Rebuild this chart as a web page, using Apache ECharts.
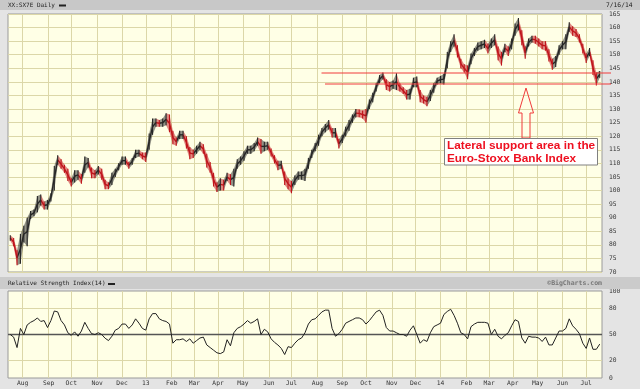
<!DOCTYPE html>
<html><head><meta charset="utf-8">
<script src="https://cdn.jsdelivr.net/npm/echarts@6/dist/echarts.min.js"></script>
<style>html,body{margin:0;padding:0;background:#e4e4e4;}#c{width:640px;height:389px;}</style>
</head><body><div id="c"></div>
<script>
// ---- data ----
const startDate = '2012-07-16';
const endDate = '2014-07-16';
const sampleStep = 3; // each sample spans 3 trading days
const priceLows = [
81.5,79.5,72.5,73,81,79.5,89.5,90.5,92,94.5,
93,93,96,100,109.5,108,106.5,103.5,101.5,103,
104,102.5,106.5,108.5,104.5,104.5,106,104,100.5,100.5,
102,105,107.5,109.5,109.5,108,109.5,112,112.5,111.5,
110.5,115,120.5,123.5,123.5,123.5,124,121.5,117,116.5,
119,119,115.5,111.5,112,113.5,115,113.5,108.5,106.5,
101.5,99.5,100,100,103.5,102,101.5,108,109.5,111,
113.5,113.5,114.5,116.5,113.5,114.5,115,112.5,110,107.5,
108,102,100.5,99,102,104,104,103.5,108,112,
114.5,116.5,120,121.5,122.5,119.5,119.5,115.5,117.5,120,
122,125,127,127,126.5,125,130,132.5,136.5,139.5,
141,137,136.5,137.5,137,136.5,135.5,133.5,133.5,138,
138,132.5,132,131,133,136,139,139.5,139,145,
151,153,149,145,143.5,141,146.5,149.5,151.5,152,
152.5,150.5,152.5,153.5,148,146,151,149.5,152,157,
159,153.5,148.5,153,154.5,154,153,152,151.5,147.5,
144.5,145.5,150,152,152,158.5,157,156.5,154.5,150.5,
147,149.5,142.5,138.7,141.5
];
const priceHighs = [
83.5,82.5,78,84,87,90,92.5,93,98,98.5,
96,96.5,99,109,113,111.5,109.5,108,104.5,107.5,
107.5,106,112.5,112,108.5,107.5,109,108,104,103,
106.5,108,110,112.5,112.5,110.5,112,115,115,114,
114,121,126.5,126.5,126,126.5,128.5,128,122,119.5,
122,122,120,116,115,116.5,118,117,113.5,110.5,
106.5,103,104.5,104,106.5,106,108,111.5,112.5,114.5,
116.5,116.5,117.5,119.5,119,118,118,115.5,113,111,
111,107,104.5,103.5,105.5,107,107,108,112,115,
117.5,120.5,123,124.5,126,123,123,119,120.5,123.5,
126,128,130,129.8,129.5,130,133.5,136,139.5,142.5,
143.5,141,140,140.5,143.2,139.5,138,137,137.5,141.5,
142,137,135,134.5,137,139.5,141.5,142.2,143,151,
155,157.5,153.5,148.5,146.5,146,150.5,152.5,154.5,155,
155.5,154,156,157.5,153,151,154,153,156,161.5,
163.5,159,153,156,157,157,156,155,155,152,
148.5,149.5,153.5,155,157.5,162,160.5,159.5,157.5,154,
150.5,152.5,148,143.5,144
];
const rsiValues = [
50,47,35,57,50,61,64,66,69,65,
66,58,66,77,76,66,61,52,49,53,
48,54,64,57,51,50,52,50,45.7,43,
48,55,57,62,62,57,61,68,63,57,
55,68,74,74,68,66,65,62,40,44,
44,45,42,45,40,43,46,47,38,35,
32,29,28,30,44,37,52,57,59,62,
66,63,65,68,50,56,53,45,41,38,
34,27,36,35,40,44,46,52,62,67,
68,72,76,78,78,57,48,51,56,63,
65,67,69,69,67,62,66,71,76,78,
72,58,54,54,52,50,50,48,55,60,
50,40,44,42,52,59,61,63,73,76.5,
79,72,63,52,50,45,59,62,64,64,
64,63,50,56,48,45,49,52,60,67,
65,46,40,48,47,47,46,42,47,38,
38,46,54,54,57,68,60,56,51,40,
34,46,33,33,39
];
const monthNames = ['Jan','Feb','Mar','Apr','May','Jun','Jul','Aug','Sep','Oct','Nov','Dec'];
const priceMin = 70, priceMax = 165, priceStep = 5;
const rsiLabelValues = [0, 20, 50, 80, 100];
const rsiGuideLevels = [20, 80];
const rsiMidLevel = 50;
const supportLevels = [143.1, 139.4];
const titleText = 'XX:SX7E Daily';
const dateText = '7/16/14';
const rsiTitle = 'Relative Strength Index(14)';
const creditText = '\u00A9BigCharts.com';
const noteLines = ['Lateral support area in the', 'Euro-Stoxx Bank Index'];

// ---- categories: trading weekdays, with padding slots at both ends ----
const days = [];
for (let d = new Date(startDate + 'T00:00:00Z'); d <= new Date(endDate + 'T00:00:00Z'); d.setUTCDate(d.getUTCDate() + 1)) {
  const w = d.getUTCDay();
  if (w > 0 && w < 6) days.push(d.toISOString().slice(0, 10));
}
const cats = [''].concat(days, ['', '', '']);
function isMonthStart(i) {
  const c = cats[i], p = cats[i - 1];
  return !!c && !!p && c.slice(5, 7) !== p.slice(5, 7);
}
function monthLabel(v) {
  if (!v) return '';
  const m = +v.slice(5, 7);
  return m === 1 ? v.slice(2, 4) : monthNames[m - 1];
}
const sampleIndex = i => sampleStep * i + 2;
const priceData = priceLows.map((lo, i) => [sampleIndex(i), lo, priceHighs[i], i]);
const rsiData = rsiValues.map((v, i) => [sampleIndex(i), v]);

const gridColor = '#dcd7a8';
const plotBg = '#ffffe6';
const monoFont = 'DejaVu Sans Mono';
const upColor = '#262626';
const downColor = '#c0141b';

const chart = echarts.init(document.getElementById('c'), null, {renderer: 'canvas'});
const option = {
  animation: false,
  backgroundColor: '#e4e4e4',
  grid: [
    {left: 8, top: 14, width: 594, height: 258, show: true, backgroundColor: plotBg, borderColor: '#9a9a9a', borderWidth: 1},
    {left: 8, top: 291, width: 594, height: 87, show: true, backgroundColor: plotBg, borderColor: '#9a9a9a', borderWidth: 1}
  ],
  xAxis: [
    {type: 'category', gridIndex: 0, data: cats, boundaryGap: false,
     axisLine: {show: false}, axisTick: {show: false, interval: isMonthStart},
     axisLabel: {show: false, interval: isMonthStart},
     splitLine: {show: true, interval: isMonthStart, lineStyle: {color: gridColor, width: 1}}},
    {type: 'category', gridIndex: 1, data: cats, boundaryGap: false,
     axisLine: {show: false}, axisTick: {show: false, interval: isMonthStart},
     axisLabel: {show: true, interval: isMonthStart, formatter: monthLabel, fontSize: 6.3, fontFamily: monoFont, color: '#333', margin: 2, hideOverlap: false},
     splitLine: {show: true, interval: isMonthStart, lineStyle: {color: gridColor, width: 1}}}
  ],
  yAxis: [
    {type: 'value', gridIndex: 0, position: 'right', min: priceMin, max: priceMax, interval: priceStep,
     axisLine: {show: false}, axisTick: {show: false},
     axisLabel: {fontSize: 6.3, fontFamily: monoFont, color: '#333', margin: 7},
     splitLine: {show: true, lineStyle: {color: gridColor, width: 1}}},
    {type: 'value', gridIndex: 1, position: 'right', min: 0, max: 100, interval: 10,
     axisLine: {show: false}, axisTick: {show: false},
     axisLabel: {fontSize: 6.3, fontFamily: monoFont, color: '#333', margin: 7,
                 formatter: v => rsiLabelValues.indexOf(v) >= 0 ? String(v) : ''},
     splitLine: {show: false}}
  ],
  series: [
    {type: 'custom', xAxisIndex: 0, yAxisIndex: 0, data: priceData, encode: {x: 0, y: [1, 2]}, clip: true, z: 5,
     renderItem: function (params, api) {
       const idx = api.value(0), lo = api.value(1), hi = api.value(2), k = api.value(3);
       const mid = (lo + hi) / 2;
       const children = [];
       const top = api.coord([idx, hi]), bot = api.coord([idx, lo]);
       if (k + 1 < priceLows.length) {
         const lo2 = priceLows[k + 1], hi2 = priceHighs[k + 1];
         const idx2 = sampleIndex(k + 1);
         const mid2 = (lo2 + hi2) / 2;
         const b = api.coord([idx2, hi2]), c = api.coord([idx2, lo2]);
         const col = mid2 < mid ? downColor : upColor;
         children.push({type: 'polygon', shape: {points: [top, b, c, bot]},
           style: {fill: col, opacity: 0.5}});
         const m1 = api.coord([idx, mid]), m2 = api.coord([idx2, mid2]);
         children.push({type: 'line', shape: {x1: m1[0], y1: m1[1], x2: m2[0], y2: m2[1]},
           style: {stroke: col, lineWidth: 1.4}});
       }
       const prev = k > 0 ? (priceLows[k - 1] + priceHighs[k - 1]) / 2 : mid;
       children.push({type: 'line', shape: {x1: top[0], y1: top[1], x2: bot[0], y2: bot[1]},
         style: {stroke: mid < prev ? downColor : upColor, lineWidth: 1.1}});
       return {type: 'group', children: children};
     }},
    {type: 'line', xAxisIndex: 1, yAxisIndex: 1, data: rsiData, symbol: 'none', z: 5,
     lineStyle: {color: '#222', width: 1},
     markLine: {silent: true, symbol: 'none', label: {show: false},
       data: rsiGuideLevels.map(v => ({yAxis: v, lineStyle: {color: gridColor, width: 1, type: 'solid'}}))
         .concat([{yAxis: rsiMidLevel, lineStyle: {color: '#555', width: 1.3, type: 'solid'}}])}}
  ]
};
chart.setOption(option);

// ---- annotation layer ----
const yUp = Math.round(chart.convertToPixel({yAxisIndex: 0}, supportLevels[0]));
const yLo = Math.round(chart.convertToPixel({yAxisIndex: 0}, supportLevels[1]));
const annoRed = '#f03a3a';
chart.setOption({
  graphic: [
    {type: 'rect', shape: {x: 0, y: 0, width: 640, height: 10}, style: {fill: '#c8c8c8'}, z: 1},
    {type: 'rect', shape: {x: 0, y: 277, width: 640, height: 12}, style: {fill: '#cbcbcb'}, z: 1},
    {type: 'text', x: 8, y: 5, style: {text: titleText, font: '6px "DejaVu Sans Mono"', fill: '#222', verticalAlign: 'middle'}, z: 2},
    {type: 'rect', shape: {x: 59, y: 4.5, width: 7, height: 2}, style: {fill: '#222'}, z: 2},
    {type: 'text', x: 606, y: 5, style: {text: dateText, font: '6.3px "DejaVu Sans Mono"', fill: '#222', verticalAlign: 'middle'}, z: 2},
    {type: 'text', x: 8, y: 283.5, style: {text: rsiTitle, font: '6px "DejaVu Sans Mono"', fill: '#222', verticalAlign: 'middle'}, z: 2},
    {type: 'rect', shape: {x: 108, y: 283, width: 7, height: 2}, style: {fill: '#222'}, z: 2},
    {type: 'text', x: 602, y: 283.5, style: {text: creditText, font: 'bold 6.5px "DejaVu Sans Mono"', fill: '#777', align: 'right', verticalAlign: 'middle'}, z: 2},
    {type: 'line', shape: {x1: 321.5, y1: yUp, x2: 611, y2: yUp}, style: {stroke: annoRed, lineWidth: 1}, z: 50},
    {type: 'line', shape: {x1: 325, y1: yLo, x2: 611, y2: yLo}, style: {stroke: annoRed, lineWidth: 1}, z: 50},
    {type: 'polygon', shape: {points: [[526, 88], [533.5, 113], [530, 113], [530, 138], [522, 138], [522, 113], [518.5, 113]]},
     style: {fill: 'none', stroke: annoRed, lineWidth: 1}, z: 50},
    {type: 'rect', shape: {x: 444.5, y: 138.5, width: 153, height: 26.5}, style: {fill: '#ffffff', stroke: '#808080', lineWidth: 1}, z: 50},
    {type: 'text', x: 447, y: 145.8, style: {text: noteLines[0], font: 'bold 11.8px "Liberation Sans"', fill: '#ee1020', verticalAlign: 'middle'}, z: 51},
    {type: 'text', x: 447, y: 158.3, style: {text: noteLines[1], font: 'bold 11.8px "Liberation Sans"', fill: '#ee1020', verticalAlign: 'middle'}, z: 51}
  ]
});
</script></body></html>
